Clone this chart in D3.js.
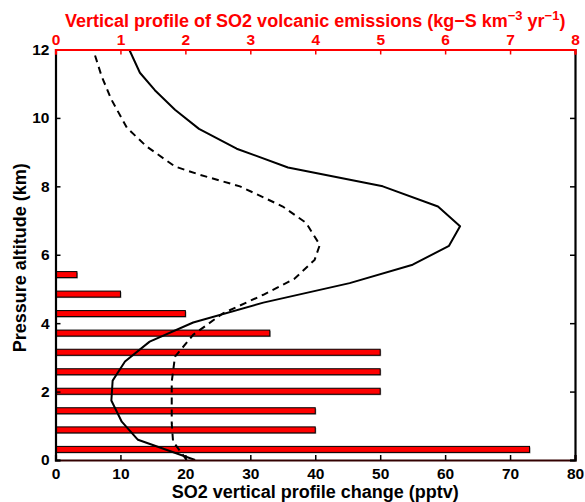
<!DOCTYPE html>
<html>
<head>
<meta charset="utf-8">
<script src="https://cdn.jsdelivr.net/npm/d3@7/dist/d3.min.js"></script>
<style>
  html, body { margin: 0; padding: 0; background: #fff; }
  svg { display: block; font-family: "Liberation Sans", Arial, sans-serif; font-weight: bold; }
</style>
</head>
<body>
<svg id="chart" width="585" height="502"></svg>
<script>
// Volcanic SO2 emission profile (bars, top axis, kg-S km^-3 yr^-1)
const emisAltitude = [0.31, 0.88, 1.44, 2.01, 2.58, 3.15, 3.71, 4.28, 4.85, 5.42];
const emisValue    = [7.3, 4.0, 4.0, 5.0, 5.0, 5.0, 3.3, 2.0, 1.0, 0.33];

// SO2 vertical profile change (bottom axis, pptv)
const solidAltitude = [0.0, 0.59, 1.12, 1.74, 2.32, 2.88, 3.46, 4.02, 4.6, 5.17, 5.71, 6.26, 6.83, 7.41, 8.0, 8.55, 9.10, 9.68, 10.24, 10.81, 11.32, 12.0];
const solidValue    = [21.5, 12.7, 10.2, 8.6, 8.8, 10.7, 14.5, 21.2, 32.0, 45.3, 55.0, 60.6, 62.3, 58.9, 50.4, 35.8, 27.9, 22.1, 18.4, 15.3, 13.0, 11.35];

const dashAltitude = [0.0, 0.54, 1.07, 2.29, 3.02, 3.66, 4.29, 4.83, 5.3, 5.85, 6.29, 6.93, 7.41, 8.0, 8.34, 8.58, 9.17, 9.71, 10.54, 11.22, 12.0];
const dashValue    = [20.2, 18.1, 17.9, 17.9, 18.4, 21.2, 25.8, 32.0, 36.8, 39.9, 40.7, 38.6, 35.0, 28.4, 22.2, 18.4, 14.0, 11.0, 8.6, 7.1, 5.8];

const bottomTicks = [0, 10, 20, 30, 40, 50, 60, 70, 80];
const topTicks    = [0, 1, 2, 3, 4, 5, 6, 7, 8];
const leftTicks   = [0, 2, 4, 6, 8, 10, 12];

const svg = d3.select("#chart");
const L = 55.5, R = 575, T = 49.5, B = 460;

const xPptv = d3.scaleLinear().domain([0, 80]).range([L, R]);
const xEmis = d3.scaleLinear().domain([0, 8]).range([L, R]);
const y = d3.scaleLinear().domain([0, 12]).range([B, T]);

const plot = svg.append("g");
svg.append("clipPath").attr("id", "clip")
  .append("rect").attr("x", L).attr("y", T).attr("width", R - L).attr("height", B - T);

// emission bars
const barH = 6;
const bars = plot.append("g");
bars.selectAll("rect.shadow").data(emisAltitude).join("rect")
  .attr("class", "shadow")
  .attr("x", L + 1)
  .attr("y", d => y(d) - barH / 2 + 1)
  .attr("width", (d, i) => xEmis(emisValue[i]) - L)
  .attr("height", barH)
  .attr("fill", "#999");
bars.selectAll("rect.bar").data(emisAltitude).join("rect")
  .attr("class", "bar")
  .attr("x", L)
  .attr("y", d => y(d) - barH / 2)
  .attr("width", (d, i) => xEmis(emisValue[i]) - L)
  .attr("height", barH)
  .attr("fill", "#ff0000")
  .attr("stroke", "#000")
  .attr("stroke-width", 1);

// profile lines
const line = d3.line().x(d => xPptv(d[0])).y(d => y(d[1]));
const lines = plot.append("g").attr("clip-path", "url(#clip)");
lines.append("path")
  .datum(solidValue.map((v, i) => [v, solidAltitude[i]]))
  .attr("d", line)
  .attr("fill", "none").attr("stroke", "#000").attr("stroke-width", 2)
  .attr("stroke-linejoin", "round");
lines.append("path")
  .datum(dashValue.map((v, i) => [v, dashAltitude[i]]))
  .attr("d", line)
  .attr("fill", "none").attr("stroke", "#000").attr("stroke-width", 2)
  .attr("stroke-dasharray", "7,5");

// axes
const fs = "15.5px";
const font = "'Liberation Sans', Arial, sans-serif";
const bottomAxis = svg.append("g").attr("transform", `translate(0,${B})`)
  .call(d3.axisBottom(xPptv).tickValues(bottomTicks).tickSize(-5).tickPadding(8));
const leftAxis = svg.append("g").attr("transform", `translate(${L},0)`)
  .call(d3.axisLeft(y).tickValues(leftTicks).tickSize(-5).tickPadding(6));
const rightAxis = svg.append("g").attr("transform", `translate(${R},0)`)
  .call(d3.axisRight(y).tickValues(leftTicks).tickSize(-5).tickFormat(""));
const topAxis = svg.append("g").attr("transform", `translate(0,${T})`)
  .call(d3.axisTop(xEmis).tickValues(topTicks).tickSize(-5).tickPadding(5));

[bottomAxis, leftAxis, rightAxis].forEach(a => {
  a.selectAll("path.domain").attr("stroke", "#000").attr("stroke-width", 2.2);
  a.selectAll(".tick line").attr("stroke", "#000").attr("stroke-width", 1.5);
  a.selectAll("text").attr("fill", "#000").style("font-size", fs).style("font-weight", "bold")
    .style("font-family", font);
});
bottomAxis.select("path.domain").attr("stroke", "#300");
topAxis.selectAll("path.domain").attr("stroke", "#ff0000").attr("stroke-width", 2.2);
topAxis.selectAll(".tick line").attr("stroke", "#ff0000").attr("stroke-width", 1.5);
topAxis.selectAll("text").attr("fill", "#ff0000").style("font-size", fs).style("font-weight", "bold")
  .style("font-family", font);

// axis titles
svg.append("text")
  .attr("x", (L + R) / 2).attr("y", 498)
  .attr("text-anchor", "middle")
  .style("font-size", "18px").attr("fill", "#000")
  .text("SO2 vertical profile change (pptv)");

svg.append("text")
  .attr("transform", `translate(26,${(T + B) / 2 + 3}) rotate(-90)`)
  .attr("text-anchor", "middle")
  .style("font-size", "18px").attr("fill", "#000")
  .text("Pressure altitude (km)");

const topTitle = svg.append("text")
  .attr("x", (L + R) / 2).attr("y", 27)
  .attr("text-anchor", "middle")
  .style("font-size", "18px").attr("fill", "#ff0000");
topTitle.append("tspan").text("Vertical profile of SO2 volcanic emissions (kg\u2212S km");
topTitle.append("tspan").attr("dy", -7).style("font-size", "13px").text("\u22123");
topTitle.append("tspan").attr("dy", 7).text(" yr");
topTitle.append("tspan").attr("dy", -7).style("font-size", "13px").text("\u22121");
topTitle.append("tspan").attr("dy", 7).text(")");
</script>
</body>
</html>
